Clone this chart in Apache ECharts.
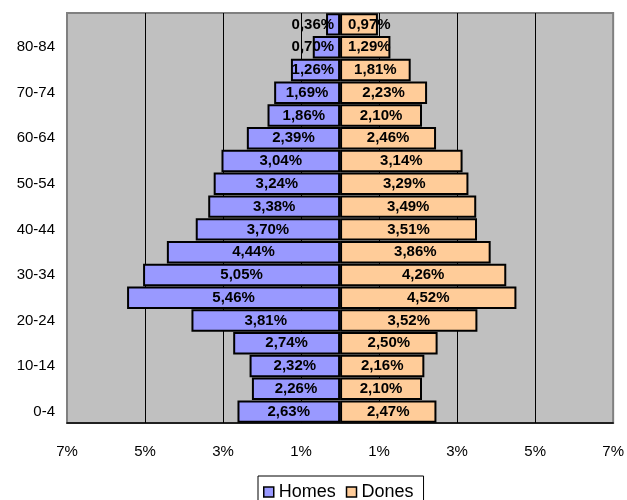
<!DOCTYPE html>
<html><head><meta charset="utf-8">
<script src="https://cdn.jsdelivr.net/npm/echarts@6/dist/echarts.min.js"></script>
<style>html,body{margin:0;padding:0;background:#fff}#c{width:627px;height:500px}</style>
</head><body><div id="c"></div>
<script>
const categories = ['0-4','5-9','10-14','15-19','20-24','25-29','30-34','35-39','40-44','45-49','50-54','55-59','60-64','65-69','70-74','75-79','80-84','85+'];
const homes = [2.63,2.26,2.32,2.74,3.81,5.46,5.05,4.44,3.70,3.38,3.24,3.04,2.39,1.86,1.69,1.26,0.70,0.36];
const dones = [2.47,2.10,2.16,2.50,3.52,4.52,4.26,3.86,3.51,3.49,3.29,3.14,2.46,2.10,2.23,1.81,1.29,0.97];
const xMin = -7, xMax = 7, xInterval = 2;
const seriesNames = ['Homes','Dones'];

const FONT = '"Liberation Sans", Arial, sans-serif';
const fmt = v => Math.abs(v).toFixed(2).replace('.', ',') + '%';

function buildOption(homesData, donesData) {
  return {
    animation: false,
    backgroundColor: '#fff',
    textStyle: { fontFamily: FONT, color: '#000' },
    grid: {
      left: 67, right: 12, top: 13, bottom: 77,
      show: true, backgroundColor: '#C0C0C0', borderColor: '#808080', borderWidth: 2
    },
    legend: {
      data: seriesNames,
      left: 258, top: 476,
      orient: 'horizontal',
      itemWidth: 10, itemHeight: 10, itemGap: 10,
      padding: [6, 10, 6, 5],
      borderColor: '#000', borderWidth: 1, backgroundColor: '#fff',
      icon: 'rect',
      itemStyle: { borderColor: '#000', borderWidth: 1.5 },
      textStyle: { fontFamily: FONT, fontSize: 18, color: '#000', lineHeight: 20 }
    },
    xAxis: {
      type: 'value', min: xMin, max: xMax, interval: xInterval,
      axisLine: { show: true, lineStyle: { color: '#000', width: 1.5 } },
      axisTick: { show: false },
      axisLabel: { fontFamily: FONT, fontSize: 15, color: '#000', margin: 21,
        formatter: v => Math.abs(v) + '%' },
      splitLine: { show: true, showMinLine: false, showMaxLine: false, lineStyle: { color: '#000', width: 1 } }
    },
    yAxis: {
      type: 'category', data: categories,
      axisLine: { show: false },
      axisTick: { show: false },
      axisLabel: { interval: 1, fontFamily: FONT, fontSize: 15, color: '#000', margin: 12 }
    },
    series: [
      {
        name: seriesNames[0], type: 'bar', data: homesData,
        barGap: '-100%', barCategoryGap: '1.5%',
        itemStyle: { color: '#9999FF', borderColor: '#000', borderWidth: 2 },
        label: { show: true, position: 'inside', fontFamily: FONT, fontSize: 15, fontWeight: 'bold', color: '#000',
          formatter: p => fmt(p.value) }
      },
      {
        name: seriesNames[1], type: 'bar', data: donesData,
        barGap: '-100%', barCategoryGap: '1.5%',
        itemStyle: { color: '#FFCC99', borderColor: '#000', borderWidth: 2 },
        label: { show: true, position: 'inside', fontFamily: FONT, fontSize: 15, fontWeight: 'bold', color: '#000',
          formatter: p => fmt(p.value) }
      }
    ]
  };
}

const chart = echarts.init(document.getElementById('c'), null, { renderer: 'canvas' });
chart.setOption(buildOption(homes.map(v => -v), dones.slice()));

// Keep small-bar labels clear of the central axis, like the original.
const ppu = chart.convertToPixel({ xAxisIndex: 0 }, 1) - chart.convertToPixel({ xAxisIndex: 0 }, 0);
const ctx = document.createElement('canvas').getContext('2d');
ctx.font = 'bold 15px "Liberation Sans", Arial, sans-serif';
const homesItems = homes.map(v => {
  const w = ctx.measureText(fmt(v)).width;
  const right = -v * ppu / 2 + w / 2;
  const off = right > -6 ? -6 - right : 0;
  return { value: -v, label: { offset: [off, 0] } };
});
const donesItems = dones.map(v => {
  const w = ctx.measureText(fmt(v)).width;
  const left = v * ppu / 2 - w / 2;
  const off = left < 8 ? 8 - left : 0;
  return { value: v, label: { offset: [off, 0] } };
});
chart.setOption(buildOption(homesItems, donesItems));
</script>
</body></html>
